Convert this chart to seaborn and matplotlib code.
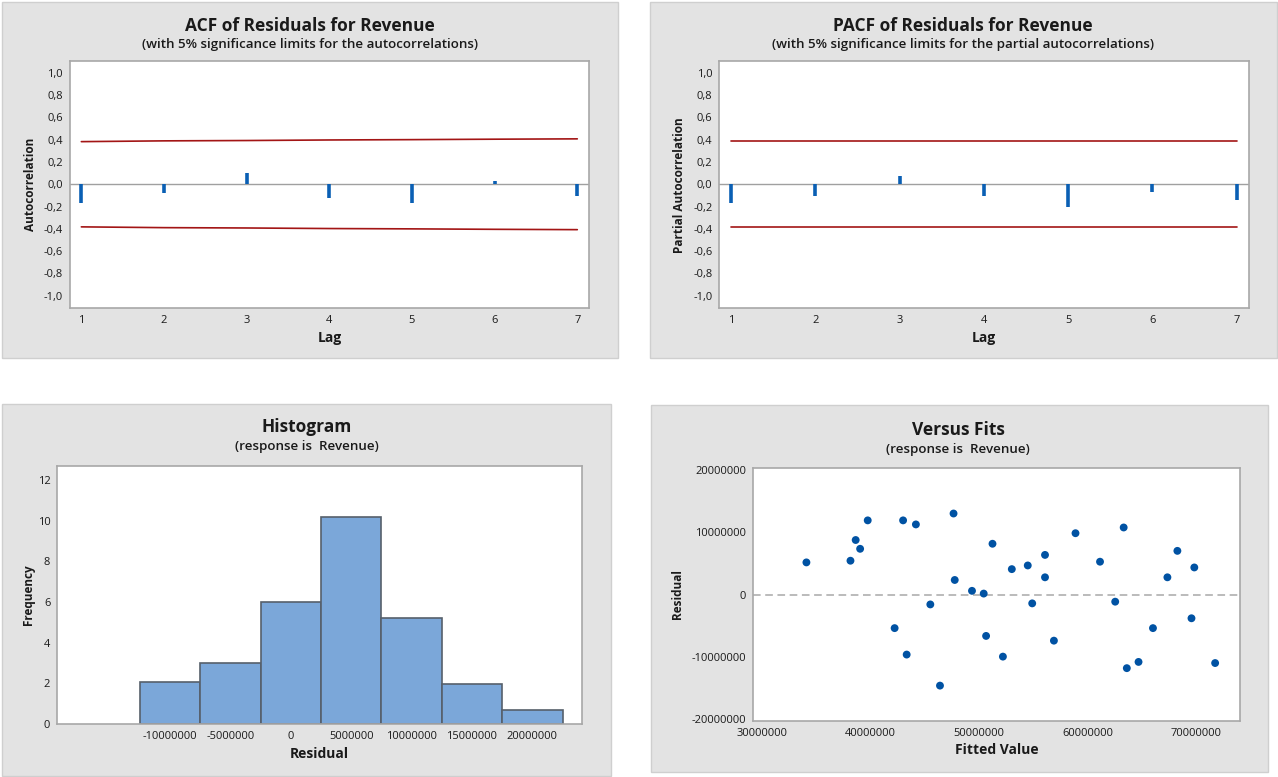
"""Minitab-style residual diagnostics for the Revenue model (ACF, PACF, histogram, versus fits)."""
import numpy as np
import matplotlib
matplotlib.use("Agg")
import matplotlib.pyplot as plt
import seaborn as sns
from matplotlib.patches import Rectangle
from matplotlib.ticker import FuncFormatter, FixedLocator

sns.set_theme(style="white")
plt.rcParams["font.family"] = ["Open Sans", "DejaVu Sans"]

# --- data ---
lags = [1, 2, 3, 4, 5, 6, 7]
acf_values = [-0.17, -0.075, 0.105, -0.12, -0.17, 0.03, -0.105]
acf_limit = [0.383, 0.390, 0.393, 0.398, 0.401, 0.405, 0.408]
pacf_values = [-0.17, -0.105, 0.07, -0.105, -0.205, -0.07, -0.14]
pacf_limit = [0.385, 0.385, 0.385, 0.385, 0.385, 0.385, 0.385]

hist_centers = [-10e6, -5e6, 0, 5e6, 10e6, 15e6, 20e6]
hist_heights = [2.05, 3.0, 6.0, 10.2, 5.2, 1.95, 0.7]
hist_edges = [-12.5e6, -7.5e6, -2.5e6, 2.5e6, 7.5e6, 12.5e6, 17.5e6, 22.5e6]

fitted = [34.07, 38.13, 38.61, 39.02, 39.72, 42.2, 42.98, 43.31, 44.16, 45.49,
          46.38, 47.63, 47.74, 49.33, 50.41, 50.63, 51.22, 52.18, 53.0, 54.47,
          54.88, 56.06, 56.06, 56.88, 58.87, 61.13, 62.53, 63.31, 63.6, 64.68,
          66.01, 67.34, 68.26, 69.56, 69.82, 71.74]
residuals = [5.16, 5.43, 8.75, 7.34, 11.9, -5.38, 11.9, -9.62, 11.25, -1.58,
             -14.6, 13.0, 2.34, 0.6, 0.16, -6.63, 8.15, -9.95, 4.08, 4.67,
             -1.41, 6.36, 2.77, -7.39, 9.84, 5.27, -1.14, 10.76, -11.8, -10.8,
             -5.38, 2.77, 7.01, -3.8, 4.35, -10.98]
fitted = [v * 1e6 for v in fitted]
residuals = [v * 1e6 for v in residuals]

corr_ticks = [1.0, 0.8, 0.6, 0.4, 0.2, 0.0, -0.2, -0.4, -0.6, -0.8, -1.0]

PANEL = "#e3e3e3"
SPINE = "#a8a8a8"
STEM = "#0a5fb4"
LIMIT = "#a31515"
TEXT = "#1a1a1a"

fig = plt.figure(figsize=(12.78, 7.77), dpi=100)
fig.patch.set_facecolor("white")

# grey panel backgrounds
for x0, y0, w, h in [(0.0016, 0.5393, 0.482, 0.4582), (0.5086, 0.5393, 0.4906, 0.4582),
                     (0.0016, 0.0013, 0.4765, 0.4788), (0.5094, 0.0064, 0.4828, 0.4723)]:
    fig.patches.append(Rectangle((x0, y0), w, h, transform=fig.transFigure,
                                 facecolor=PANEL, edgecolor="#cfcfcf", lw=1, zorder=-5))


def style_axes(ax):
    ax.set_facecolor("white")
    for s in ax.spines.values():
        s.set_color(SPINE)
        s.set_linewidth(1.2)
    ax.tick_params(axis="both", direction="out", length=3, width=0.8, color=SPINE,
                   labelsize=8, labelcolor=TEXT, pad=2)
    ax.grid(False)


def titles(xc, y1, y2, title, sub):
    fig.text(xc, y1, title, ha="center", va="center", fontsize=12.5, weight="bold", color=TEXT)
    fig.text(xc, y2, sub, ha="center", va="center", fontsize=9.6, weight="semibold", color=TEXT)


comma = FuncFormatter(lambda v, p: f"{v:.1f}".replace(".", ","))


def corr_plot(rect, values, limit, ylabel):
    ax = fig.add_axes(rect)
    style_axes(ax)
    ax.axhline(0, color="#a0a0a0", lw=1, zorder=1)
    sns.lineplot(x=lags, y=limit, ax=ax, color=LIMIT, lw=1.2)
    sns.lineplot(x=lags, y=[-v for v in limit], ax=ax, color=LIMIT, lw=1.2)
    ax.vlines(lags, 0, values, color=STEM, lw=2.6, zorder=3)
    ax.set_xlim(0.86, 7.145)
    ax.set_ylim(-1.115, 1.105)
    ax.set_xticks(lags)
    ax.yaxis.set_major_locator(FixedLocator(corr_ticks))
    ax.yaxis.set_major_formatter(comma)
    ax.set_xlabel("Lag", fontsize=10, weight="bold", color=TEXT)
    ax.set_ylabel(ylabel, fontsize=8.5, weight="bold", color=TEXT)
    ax.xaxis.set_label_coords(0.5, -0.09)
    ax.yaxis.set_label_coords(-0.063, 0.5)
    return ax


corr_plot([0.0546, 0.6032, 0.4065, 0.3179], acf_values, acf_limit, "Autocorrelation")
titles(0.2426, 0.967, 0.943, "ACF of Residuals for Revenue",
       "(with 5% significance limits for the autocorrelations)")

corr_plot([0.5628, 0.6032, 0.4143, 0.3179], pacf_values, pacf_limit, "Partial Autocorrelation")
titles(0.7535, 0.967, 0.943, "PACF of Residuals for Revenue",
       "(with 5% significance limits for the partial autocorrelations)")

# histogram
ax = fig.add_axes([0.0448, 0.0682, 0.4106, 0.332])
style_axes(ax)
sns.histplot(x=hist_centers, weights=hist_heights, bins=hist_edges, ax=ax,
             color="#7ba7d9", edgecolor="#56606b", linewidth=1.2, alpha=1)
ax.set_xlim(-19.33e6, 24.11e6)
ax.set_ylim(0, 12.69)
ax.set_xticks(hist_centers)
ax.set_yticks([0, 2, 4, 6, 8, 10, 12])
ax.xaxis.set_major_formatter(FuncFormatter(lambda v, p: f"{v:.0f}"))
ax.set_xlabel("Residual", fontsize=10, weight="bold", color=TEXT)
ax.set_ylabel("Frequency", fontsize=8.5, weight="bold", color=TEXT)
ax.xaxis.set_label_coords(0.5, -0.09)
ax.yaxis.set_label_coords(-0.043, 0.5)
titles(0.2398, 0.450, 0.425, "Histogram", "(response is  Revenue)")

# versus fits
ax = fig.add_axes([0.5894, 0.0721, 0.3806, 0.3256])
style_axes(ax)
ax.axhline(0, color="#a8a8a8", lw=1.1, ls=(0, (5, 3)), zorder=1)
sns.scatterplot(x=fitted, y=residuals, ax=ax, color="#0052a3", s=32, edgecolor="none", zorder=3)
ax.set_xlim(29.17e6, 74.0e6)
ax.set_ylim(-20.27e6, 20.3e6)
ax.set_xticks([30e6, 40e6, 50e6, 60e6, 70e6])
ax.set_yticks([-20e6, -10e6, 0, 10e6, 20e6])
ax.xaxis.set_major_formatter(FuncFormatter(lambda v, p: f"{v:.0f}"))
ax.yaxis.set_major_formatter(FuncFormatter(lambda v, p: f"{v:.0f}"))
ax.set_xlabel("Fitted Value", fontsize=10, weight="bold", color=TEXT)
ax.set_ylabel("Residual", fontsize=8.5, weight="bold", color=TEXT)
ax.xaxis.set_label_coords(0.5, -0.086)
ax.yaxis.set_label_coords(-0.142, 0.5)
titles(0.7496, 0.447, 0.422, "Versus Fits", "(response is  Revenue)")

plt.savefig("out.png", dpi=100)
plt.close()
